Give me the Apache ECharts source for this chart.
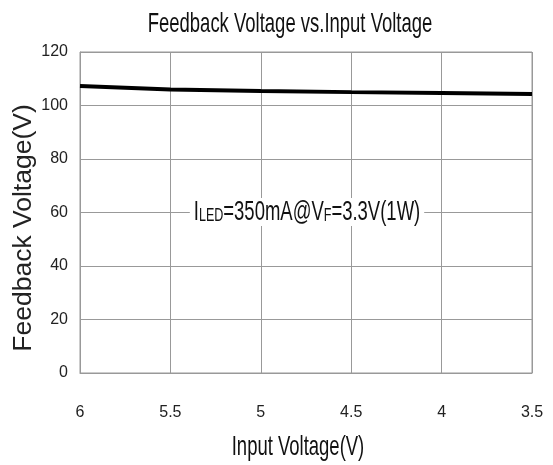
<!DOCTYPE html>
<html><head><meta charset="utf-8">
<script src="https://cdn.jsdelivr.net/npm/echarts@6/dist/echarts.min.js"></script>
<style>html,body{margin:0;padding:0;background:#fff}#c{width:553px;height:465px}</style>
</head><body><div id="c"></div>
<script>
const xValues = [6, 5.5, 5, 4.5, 4, 3.5];
const feedbackV = [107.3, 106.0, 105.4, 105.0, 104.7, 104.3];
const xTicks = [3.5, 4, 4.5, 5, 5.5, 6];
const yTicks = [0, 20, 40, 60, 80, 100, 120];
const titleText = 'Feedback Voltage vs.Input Voltage';
const xName = 'Input Voltage(V)';
const yName = 'Feedback Voltage(V)';
const sans = "'Liberation Sans', Arial, sans-serif";
const chart = echarts.init(document.getElementById('c'));
chart.setOption({
  animation: false,
  grid: {left: 80, right: 21, top: 52, bottom: 92, show: true, borderColor: '#999', borderWidth: 1,
         containLabel: false, outerBoundsMode: 'none'},
  xAxis: {
    type: 'value', inverse: true, min: xTicks[0], max: xTicks[xTicks.length-1], interval: 0.5,
    axisLine: {lineStyle: {color: '#999'}}, axisTick: {show: false},
    axisLabel: {margin: 32, fontFamily: sans, fontSize: 16, color: '#222'},
    splitLine: {show: true, lineStyle: {color: '#999', width: 1}}
  },
  yAxis: {
    type: 'value', min: yTicks[0], max: yTicks[yTicks.length-1], interval: 20,
    axisLine: {show: true, lineStyle: {color: '#999'}}, axisTick: {show: false},
    axisLabel: {margin: 12, fontFamily: sans, fontSize: 16, color: '#222'},
    splitLine: {show: true, lineStyle: {color: '#999', width: 1}}
  },
  series: [{
    type: 'line', data: xValues.map((x, i) => [x, feedbackV[i]]),
    showSymbol: false, lineStyle: {color: '#000', width: 4}
  }],
  graphic: [
    {type: 'text', x: 290, y: 24, scaleX: 0.66, z: 100,
     style: {text: titleText, fontFamily: sans, fontSize: 28, fill: '#111',
             textAlign: 'center', textVerticalAlign: 'middle'}},
    {type: 'text', x: 298, y: 447, scaleX: 0.66, z: 100,
     style: {text: xName, fontFamily: sans, fontSize: 28, fill: '#111',
             textAlign: 'center', textVerticalAlign: 'middle'}},
    {type: 'text', x: 24, y: 228, rotation: Math.PI / 2, scaleX: 1.06, z: 100,
     style: {text: yName, fontFamily: sans, fontSize: 25, fill: '#222',
             textAlign: 'center', textVerticalAlign: 'middle'}},
    {type: 'text', x: 307, y: 212, scaleX: 0.66, z: 100,
     style: {
       rich: {
         b: {fontFamily: sans, fontSize: 28, fill: '#111'},
         s: {fontFamily: sans, fontSize: 19, fill: '#111', padding: [7, 0, 0, 0]}
       },
       text: '{b|I}{s|LED}{b|=350mA@V}{s|F}{b|=3.3V(1W)}',
       backgroundColor: '#fff', padding: [0, 6, 0, 6],
       textAlign: 'center', textVerticalAlign: 'middle'
     }}
  ]
});
</script></body></html>
